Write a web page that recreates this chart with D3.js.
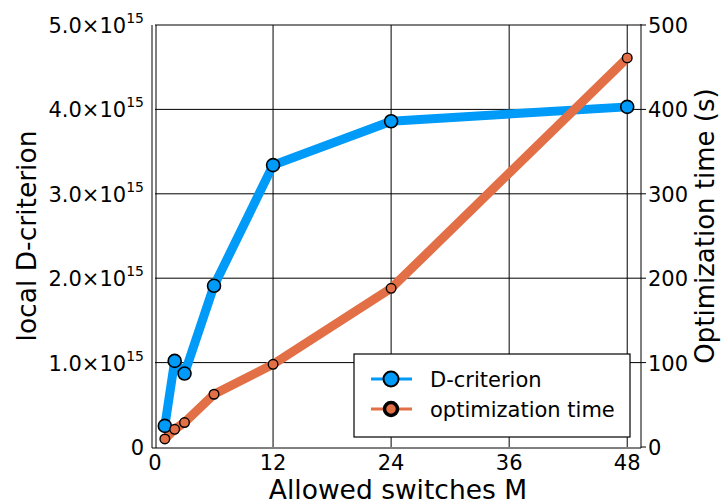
<!DOCTYPE html>
<html><head><meta charset="utf-8">
<script src="https://cdn.jsdelivr.net/npm/d3@7"></script>
<style>body{margin:0;background:#fff}svg{display:block}text{font-family:"DejaVu Sans",sans-serif;fill:#000}</style>
</head><body>
<script>
const switches = [1, 2, 3, 6, 12, 24, 48];
const dCriterion = [0.25e15, 1.02e15, 0.87e15, 1.91e15, 3.34e15, 3.86e15, 4.03e15];
const optTime = [9.5, 21, 29, 62.5, 98, 188, 461];
const xTicks = [0, 12, 24, 36, 48];
const yLeftTicks = [0, 1e15, 2e15, 3e15, 4e15, 5e15];
const yLeftLabels = ["0", "1.0", "2.0", "3.0", "4.0", "5.0"];
const yRightTicks = [0, 100, 200, 300, 400, 500];
const seriesNames = ["D-criterion", "optimization time"];
const colors = ["#009AF9", "#E26F46"];

const W = 721, H = 504;
const L = 155, R = 641, T = 25, B = 447;
const svg = d3.select("body").append("svg").attr("width", W).attr("height", H);
const x = d3.scaleLinear().domain([0, 49.4]).range([L, R]);
const yL = d3.scaleLinear().domain([0, 5e15]).range([B, T]);
const yR = d3.scaleLinear().domain([0, 500]).range([B, T]);
const FS = 21;

// grid
svg.append("g").selectAll("line").data(xTicks.slice(1)).join("line")
  .attr("x1", d => x(d)).attr("x2", d => x(d)).attr("y1", T).attr("y2", B)
  .attr("stroke", "#000").attr("stroke-width", 1);
svg.append("g").selectAll("line").data(yLeftTicks.slice(1)).join("line")
  .attr("x1", L).attr("x2", R).attr("y1", d => yL(d)).attr("y2", d => yL(d))
  .attr("stroke", "#000").attr("stroke-width", 1);

// axes lines
svg.append("line").attr("x1", 152).attr("x2", 152).attr("y1", T).attr("y2", B + 1).attr("stroke", "#000");
svg.append("line").attr("x1", 156).attr("x2", 156).attr("y1", T).attr("y2", B + 1).attr("stroke", "#000");
svg.append("line").attr("x1", 152).attr("x2", R).attr("y1", B + 1).attr("y2", B + 1).attr("stroke", "#000");
svg.append("line").attr("x1", R).attr("x2", R).attr("y1", T - 1).attr("y2", B + 1).attr("stroke", "#000");

// right ticks
svg.append("g").selectAll("line").data(yRightTicks).join("line")
  .attr("x1", R).attr("x2", R + 5).attr("y1", d => yR(d)).attr("y2", d => yR(d)).attr("stroke", "#000");

// tick labels
const lt = svg.append("g").selectAll("text").data(yLeftTicks).join("text")
  .attr("x", 144).attr("y", d => yL(d) + 8).attr("text-anchor", "end").attr("font-size", FS);
lt.each(function(d, i) {
  const t = d3.select(this);
  if (d === 0) { t.text("0"); return; }
  t.append("tspan").text(yLeftLabels[i] + "×10");
  t.append("tspan").attr("font-size", 14).attr("dy", -10).text("15");
});
svg.append("g").selectAll("text").data(yRightTicks).join("text")
  .attr("x", 648).attr("y", d => yR(d) + 8).attr("font-size", FS).text(d => d);
svg.append("g").selectAll("text").data(xTicks).join("text")
  .attr("x", d => x(d)).attr("y", 470).attr("text-anchor", "middle").attr("font-size", FS).text(d => d);

// titles
svg.append("text").attr("x", 398).attr("y", 499).attr("text-anchor", "middle").attr("font-size", 26.5).text("Allowed switches M");
svg.append("text").attr("transform", "translate(36,236) rotate(-90)").attr("text-anchor", "middle").attr("font-size", 26.5).text("local D-criterion");
svg.append("text").attr("transform", "translate(714,226) rotate(-90)").attr("text-anchor", "middle").attr("font-size", 26).text("Optimization time (s)");

// lines
const lineL = d3.line().x((d, i) => x(switches[i])).y(d => yL(d));
const lineR = d3.line().x((d, i) => x(switches[i])).y(d => yR(d));
svg.append("path").attr("d", lineL(dCriterion)).attr("fill", "none").attr("stroke", colors[0]).attr("stroke-width", 9).attr("stroke-linejoin", "round");
svg.append("path").attr("d", lineR(optTime)).attr("fill", "none").attr("stroke", colors[1]).attr("stroke-width", 9).attr("stroke-linejoin", "round");
svg.append("g").selectAll("circle").data(dCriterion).join("circle")
  .attr("cx", (d, i) => x(switches[i])).attr("cy", d => yL(d)).attr("r", 6.5)
  .attr("fill", colors[0]).attr("stroke", "#000").attr("stroke-width", 1.6);
svg.append("g").selectAll("circle").data(optTime).join("circle")
  .attr("cx", (d, i) => x(switches[i])).attr("cy", d => yR(d)).attr("r", 4.8)
  .attr("fill", colors[1]).attr("stroke", "#000").attr("stroke-width", 1.4);

// legend
const lg = svg.append("g");
lg.append("rect").attr("x", 354).attr("y", 354).attr("width", 276).attr("height", 83)
  .attr("fill", "#fff").attr("stroke", "#000").attr("stroke-width", 1.2);
const ly = [379, 409];
seriesNames.forEach((n, i) => {
  lg.append("line").attr("x1", 371).attr("x2", 412).attr("y1", ly[i]).attr("y2", ly[i]).attr("stroke", colors[i]).attr("stroke-width", 3);
  lg.append("circle").attr("cx", 391).attr("cy", ly[i]).attr("r", i === 0 ? 7.5 : 6.5)
    .attr("fill", colors[i]).attr("stroke", "#000").attr("stroke-width", i === 0 ? 2 : 3.5);
  lg.append("text").attr("x", 430).attr("y", ly[i] + 8).attr("font-size", FS).text(n);
});
</script>
</body></html>
